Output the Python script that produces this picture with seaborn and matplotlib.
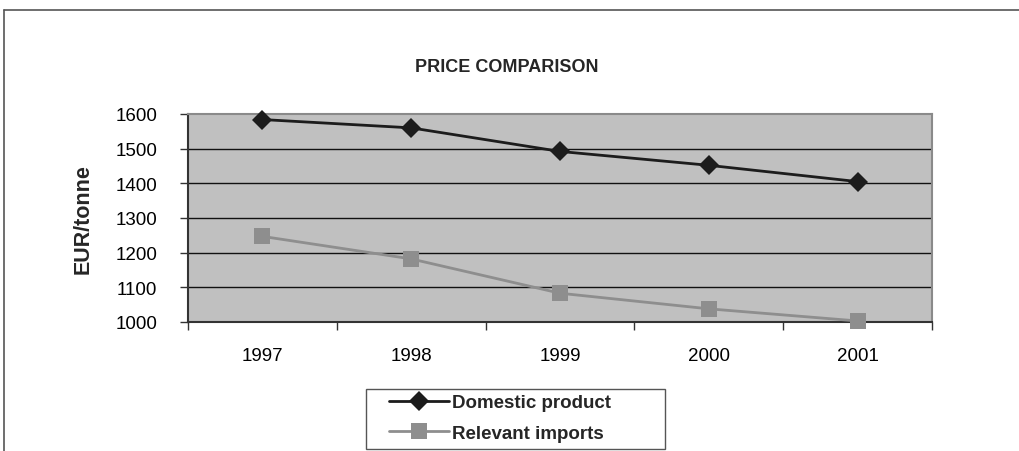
import matplotlib
matplotlib.use("Agg")
import matplotlib.pyplot as plt
from matplotlib.lines import Line2D
from matplotlib.patches import Rectangle
from matplotlib.ticker import FixedLocator
import pandas as pd
import seaborn as sns

# Price series (EUR per tonne)
years = ["1997", "1998", "1999", "2000", "2001"]
domestic = [1584, 1560, 1492, 1452, 1405]
imports = [1247, 1182, 1083, 1038, 1003]
series_names = ["Domestic product", "Relevant imports"]
y_ticks = [1000, 1100, 1200, 1300, 1400, 1500, 1600]

df = pd.DataFrame({
    "pos": list(range(len(years))) * 2,
    "price": domestic + imports,
    "series": [series_names[0]] * len(years) + [series_names[1]] * len(years),
})

sns.set_theme(style="white")
plt.rcParams["font.family"] = ["Liberation Sans", "DejaVu Sans"]

W, H = 1020, 452
fig = plt.figure(figsize=(W / 100, H / 100), dpi=100)
fig.patch.set_facecolor("white")
ax = fig.add_axes([188 / W, 1 - 323 / H, (932 - 188) / W, (323 - 115) / H])
ax.set_facecolor("#c0c0c0")

dark, grey = "#1c1c1c", "#8e8e8e"
sns.lineplot(
    data=df, x="pos", y="price", hue="series", style="series",
    palette={series_names[0]: dark, series_names[1]: grey},
    markers={series_names[0]: "D", series_names[1]: "s"},
    dashes=False, linewidth=2, markersize=9, markeredgewidth=0,
    ax=ax, legend=False,
)
for ln, ms in zip(ax.lines, [10, 11]):
    ln.set_markersize(ms)
    ln.set_clip_on(False)
    ln.set_zorder(5)

ax.set_xlim(-0.5, len(years) - 0.5)
ax.set_ylim(y_ticks[0], y_ticks[-1])
ax.set_yticks(y_ticks)
ax.set_yticklabels([str(v) for v in y_ticks], fontsize=13.5)
ax.set_xticks(range(len(years)))
ax.set_xticklabels(years, fontsize=13.5)
ax.xaxis.set_minor_locator(FixedLocator([i - 0.5 for i in range(len(years) + 1)]))

ax.tick_params(axis="y", which="major", direction="out", length=6, width=1,
               color="#333333", pad=16, labelcolor="black", left=True)
ax.tick_params(axis="x", which="major", length=0, pad=18, labelcolor="black")
ax.tick_params(axis="x", which="minor", direction="out", length=6, width=1,
               color="#333333", bottom=True)

ax.grid(False)
for v in y_ticks[1:-1]:
    ax.axhline(v, color="#111111", lw=1, zorder=1)

for side in ["top", "right"]:
    ax.spines[side].set_color("#8a8a8a")
    ax.spines[side].set_linewidth(1.5)
for side in ["left", "bottom"]:
    ax.spines[side].set_color("#333333")
    ax.spines[side].set_linewidth(1.5)
    ax.spines[side].set_visible(True)

ax.set_xlabel("")
ax.set_ylabel("EUR/tonne", fontsize=15.5, fontweight="bold", labelpad=16)

fig.text(507 / W, 1 - 68 / H, "PRICE COMPARISON", ha="center", va="center",
         fontsize=13, fontweight="bold")

# legend box and entries
fig.add_artist(Rectangle((366 / W, 1 - 450 / H), (665 - 366) / W, 60 / H,
                         transform=fig.transFigure, fill=False,
                         edgecolor="#555555", lw=1))
handles = [
    Line2D([], [], color=dark, lw=2, marker="D", markersize=10,
           markeredgewidth=0),
    Line2D([], [], color=grey, lw=2, marker="s", markersize=11,
           markeredgewidth=0),
]
leg = fig.legend(handles, series_names, loc="upper left",
                 bbox_to_anchor=(389 / W, 1 - 395 / H), frameon=False,
                 prop={"weight": "bold", "size": 13.5}, handlelength=3.2,
                 borderpad=0, labelspacing=0.72, handletextpad=0.15,
                 borderaxespad=0)

# outer frame lines
fig.add_artist(Line2D([4 / W, 1], [1 - 11 / H, 1 - 11 / H], color="#555555",
                      lw=1.2, transform=fig.transFigure))
fig.add_artist(Line2D([4 / W, 4 / W], [1 - 11 / H, 0], color="#555555",
                      lw=1.2, transform=fig.transFigure))

fig.savefig("out.png", dpi=100)
